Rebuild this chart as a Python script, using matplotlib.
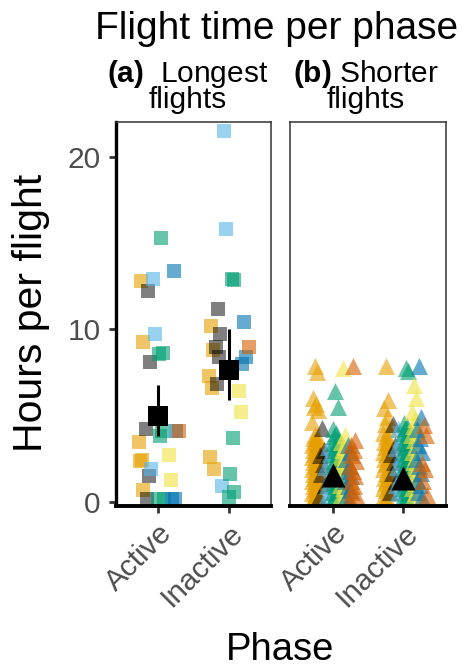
import matplotlib.pyplot as plt

# Flight time per phase: longest flights (squares) vs shorter flights (triangles)

plt.rcParams['font.family'] = ['Liberation Sans', 'DejaVu Sans']
plt.rcParams['mathtext.fontset'] = 'custom'
plt.rcParams['mathtext.bf'] = 'Liberation Sans:bold'
plt.rcParams['mathtext.rm'] = 'Liberation Sans'

phases = ["Active", "Inactive"]
birds = ["orange", "black", "skyblue", "green", "yellow", "blue", "vermillion"]

# hours per flight, one list per individual (colour)
long_active = {
    "orange": [12.8, 9.25, 3.45, 2.45, 2.35, 0.7],
    "black": [12.2, 8.1, 4.2, 1.5, 0.15],
    "skyblue": [12.9, 9.7, 1.9],
    "green": [15.3, 8.6, 8.55, 4.1, 3.8, 0.15, 0.15],
    "yellow": [2.7, 1.3],
    "blue": [13.35, 4.1, 0.15, 0.15],
    "vermillion": [4.1],
}
long_inactive = {
    "orange": [10.2, 8.8, 7.3, 6.6, 2.6, 1.9],
    "black": [11.2, 9.7, 9.0, 8.4, 6.85],
    "skyblue": [21.5, 15.8, 0.9],
    "green": [12.9, 12.85, 7.75, 3.7, 1.65, 0.6, 0.3],
    "yellow": [6.4, 5.2],
    "blue": [10.4, 8.4, 8.0],
    "vermillion": [8.95],
}
short_active = {
    "orange": [7.9, 7.55, 6.0, 5.7, 5.5, 5.3, 4.65, 3.9, 3.8, 3.7, 3.6, 3.5, 3.4,
               3.3, 3.2, 3.1, 3.0, 2.9, 2.8, 2.7, 2.6, 2.5, 2.4, 2.3, 2.2, 2.1,
               2.0, 1.9, 1.8, 1.7, 1.6, 1.5, 1.4, 1.3, 1.2, 1.1, 1.0, 0.9, 0.8,
               0.7, 0.6, 0.5, 0.4, 0.3, 0.2, 0.15, 0.1],
    "black": [4.3, 3.0, 2.7, 2.2, 1.6, 1.0, 0.3],
    "skyblue": [3.2, 2.8, 2.0, 1.4, 0.9, 0.6, 0.2],
    "green": [6.4, 5.5, 4.2, 4.0, 3.8, 3.6, 3.4, 3.2, 3.0, 2.8, 2.6, 2.4, 2.3,
              2.1, 2.0, 1.8, 1.7, 1.5, 1.4, 1.2, 1.1, 0.9, 0.8, 0.6, 0.5, 0.3,
              0.2, 0.1],
    "yellow": [7.75, 3.9, 3.5, 3.2, 3.0, 2.8, 2.6, 2.4, 2.2, 2.0, 1.7, 1.5, 1.2,
               1.0, 0.8, 0.6, 0.4, 0.2],
    "blue": [3.3, 2.9, 2.5, 2.1, 1.8, 1.5, 1.2, 0.9, 0.7, 0.3, 0.1],
    "vermillion": [7.9, 3.6, 3.3, 3.0, 2.7, 2.4, 2.1, 1.8, 1.5, 1.2, 0.9, 0.6,
                   0.4, 0.15],
}
short_inactive = {
    "orange": [7.85, 5.9, 5.45, 4.9, 4.5, 4.2, 4.0, 3.8, 3.7, 3.5, 3.4, 3.2,
               3.1, 2.9, 2.8, 2.6, 2.5, 2.3, 2.2, 2.0, 1.9, 1.7, 1.6, 1.4, 1.3,
               1.1, 1.0, 0.8, 0.7, 0.5, 0.4, 0.25, 0.15],
    "black": [4.5, 3.3, 2.8, 2.3, 1.7, 1.2, 0.6],
    "skyblue": [4.2, 3.7, 3.1, 2.6, 2.0, 1.5, 1.0, 0.5],
    "green": [7.75, 7.6, 4.6, 4.4, 4.3, 4.1, 4.0, 3.8, 3.7, 3.5, 3.4, 3.2, 3.1,
              2.9, 2.8, 2.6, 2.5, 2.3, 2.2, 2.0, 1.9, 1.7, 1.6, 1.4, 1.3, 1.1,
              1.0, 0.8, 0.7, 0.5, 0.4, 0.25, 0.15],
    "yellow": [6.8, 6.0, 5.2, 4.8, 4.4, 4.1, 3.9, 3.6, 3.2, 2.9, 2.6, 2.3, 2.0,
               1.7, 1.4, 1.1, 0.8, 0.5, 0.3],
    "blue": [7.85, 4.95, 4.2, 3.7, 3.3, 2.9, 2.5, 2.1, 1.7, 1.3, 1.0, 0.6, 0.3],
    "vermillion": [4.45, 3.9, 2.25, 1.9, 1.2, 0.4],
}

# mean and interval per phase
long_mean = [5.0, 7.65]
long_lo = [3.8, 5.9]
long_hi = [6.8, 10.0]
short_mean = [1.55, 1.4]
short_lo = [1.4, 1.25]
short_hi = [1.7, 1.55]

# Okabe-Ito colours
bird_colors = {
    "orange": "#E69F00", "black": "#000000", "skyblue": "#56B4E9",
    "green": "#009E73", "yellow": "#F0E442", "blue": "#0072B2",
    "vermillion": "#D55E00",
}
dodge = {"orange": -0.25, "black": -0.15, "skyblue": -0.07, "green": 0.04,
         "yellow": 0.15, "blue": 0.22, "vermillion": 0.29}
jitter = [0.0, 0.03, -0.03, 0.015, -0.015, 0.04, -0.04]

W, H = 466, 669
fig = plt.figure(figsize=(W / 100, H / 100), dpi=100)


def px(x, y):
    return x / W, 1 - y / H


bottom = 1 - 505.5 / H
height = (505.5 - 122) / H
ax_a = fig.add_axes([116 / W, bottom, 155 / W, height])
ax_b = fig.add_axes([290 / W, bottom, 156 / W, height])


def draw_points(ax, groups, marker, size):
    for p, data in enumerate(groups, start=1):
        for bird in birds:
            ys = data[bird]
            xs = [p + dodge[bird] + jitter[i % len(jitter)] for i in range(len(ys))]
            a = 0.5 if bird == "black" else 0.6
            ax.scatter(xs, ys, marker=marker, s=size, color=bird_colors[bird],
                       alpha=a, linewidths=0, zorder=2)


draw_points(ax_a, [long_active, long_inactive], "s", 100)
draw_points(ax_b, [short_active, short_inactive], "^", 150)

for ax, mean, lo, hi, mk, sz in [(ax_a, long_mean, long_lo, long_hi, "s", 200),
                                  (ax_b, short_mean, short_lo, short_hi, "^", 300)]:
    xs = [1, 2]
    ax.vlines(xs, lo, hi, color="black", lw=2.2, zorder=3)
    ax.scatter(xs, mean, marker=mk, s=sz, color="black", linewidths=0, zorder=4)

for ax in (ax_a, ax_b):
    ax.set_xlim(0.4, 2.6)
    ax.set_ylim(-0.2, 22.0)
    ax.set_xticks([1, 2])
    ax.set_xticklabels(phases, rotation=45, ha="right", rotation_mode="anchor",
                       fontsize=21.5, color="#4D4D4D")
    ax.tick_params(axis="x", length=5, width=2, color="#333333", pad=5)
    for side in ("top", "right", "left"):
        ax.spines[side].set_linewidth(1.1)
        ax.spines[side].set_color("#333333")
    ax.spines["bottom"].set_linewidth(2.8)
    ax.spines["bottom"].set_color("black")

ax_a.set_yticks([0, 10, 20])
ax_a.set_yticklabels(["0", "10", "20"], fontsize=21.5, color="#4D4D4D")
ax_a.tick_params(axis="y", length=5, width=2, color="#333333", pad=6)
ax_a.spines["left"].set_linewidth(2.4)
ax_a.spines["left"].set_color("black")
ax_b.set_yticks([])

# titles and strip labels (one text per strip, bold tag via mathtext)
fig.text(*px(277, 39), "Flight time per phase", ha="center", va="baseline",
         fontsize=28)
fig.text(*px(188, 114), "$\\mathbf{(a)}$  Longest\nflights", ha="center",
         va="bottom", multialignment="center", fontsize=21.5, linespacing=0.8)
fig.text(*px(366, 114), "$\\mathbf{(b)}$ Shorter\nflights", ha="center",
         va="bottom", multialignment="center", fontsize=21.5, linespacing=0.8)

fig.text(*px(31, 313), "Hours per flight", rotation=90, ha="center",
         va="center", fontsize=29.5)
fig.text(*px(280, 660), "Phase", ha="center", va="baseline", fontsize=27.5)

fig.savefig("out.png", dpi=100)
